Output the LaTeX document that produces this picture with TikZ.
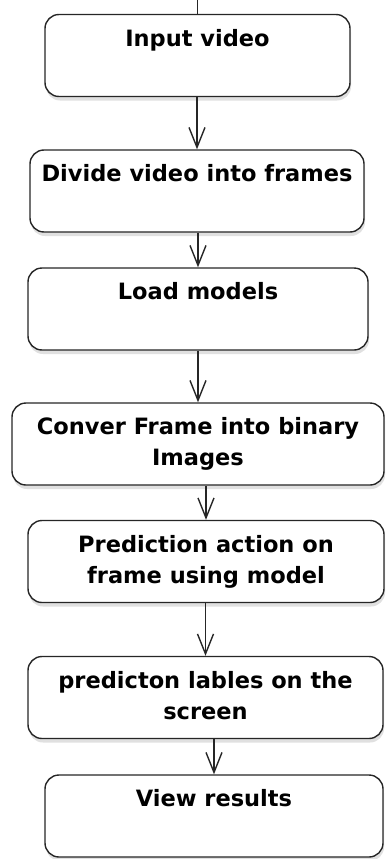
\documentclass[tikz,border=0pt]{standalone}
\usepackage{fontspec}
\setmainfont{DejaVu Sans}
\usetikzlibrary{arrows.meta,positioning,shadows}

\begin{document}
\begin{tikzpicture}[x=1pt,y=-1pt]
	\useasboundingbox (0,0) rectangle (387,859);
	\begin{scope}[line width=1.4pt,
		node distance=118pt,on grid,>={Straight Barb[length=20pt,width=16pt]},
		stepbox/.style={rectangle,rounded corners=14pt,draw=black!85,fill=white,
			minimum height=82pt,inner sep=0pt,align=center,
			font=\bfseries\fontsize{22.5}{31}\selectfont,
			drop shadow={shadow xshift=1pt,shadow yshift=-4pt,opacity=0.12,fill=black}}]
		\coordinate (top) at (197.5,0);
		\node [stepbox, minimum width=305pt]	(in)	at (197.5,55.5)	{\strut Input video\\\strut};
		\node [stepbox, minimum width=334pt]	(div)	[below=135.5pt of in, xshift=-0.5pt]	{\strut Divide video into frames\\\strut};
		\node [stepbox, minimum width=340pt]	(load)	[below=of div, xshift=1pt]	{\strut Load models\\\strut};
		\node [stepbox, minimum width=372pt]	(bin)	[below=135pt of load]	{\strut Conver Frame into binary\\\strut Images};
		\node [stepbox, minimum width=356pt]	(pred)	[below=117.5pt of bin, xshift=8pt]	{\strut Prediction action on\\\strut frame using model};
		\node [stepbox, minimum width=355pt]	(lab)	[below=136pt of pred, xshift=-0.5pt]	{\strut predicton lables on the\\\strut screen};
		\node [stepbox, minimum width=338pt]	(view)	[below=118.5pt of lab, xshift=8.5pt]	{\strut View results\\\strut};
		\path [draw=black!85]
		(top) edge (in.north)
		(div.north |- in.south) edge [->] (div.north)
		(load.north |- div.south) edge [->] (load.north)
		(bin.north |- load.south) edge [->] (bin.north)
		(pred.north |- bin.south) edge [->] (pred.north)
		(lab.north |- pred.south) edge [->] (lab.north)
		(view.north |- lab.south) edge [->] (view.north)
		;
	\end{scope}
\end{tikzpicture}
\end{document}
